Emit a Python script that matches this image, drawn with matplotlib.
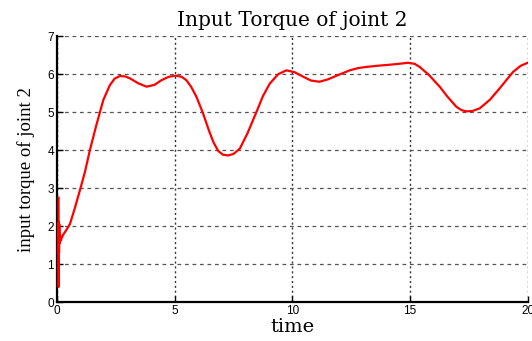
import matplotlib.pyplot as plt

# time and torque values
t = [0.07, 0.075, 0.08, 0.09, 0.1, 0.12, 0.14, 0.17, 0.21, 0.27, 0.35, 0.55, 0.75,
     0.98, 1.2, 1.4, 1.65, 1.97, 2.25, 2.45, 2.67, 2.9, 3.1, 3.45, 3.81, 4.15, 4.44,
     4.75, 5.05, 5.3, 5.5, 5.7, 5.93, 6.2, 6.45, 6.64, 6.85, 7.05, 7.27, 7.5, 7.77,
     8.1, 8.48, 8.75, 9.04, 9.4, 9.75, 10.1, 10.5, 10.8, 11.15, 11.5, 12.0, 12.44,
     12.8, 13.15, 13.6, 14.0, 14.5, 14.92, 15.2, 15.41, 15.8, 16.26, 16.6, 16.97,
     17.2, 17.4, 17.65, 17.96, 18.4, 18.8, 19.1, 19.38, 19.7, 20.0]
torque = [2.75, 0.4, 2.1, 1.3, 2.05, 1.55, 1.75, 1.62, 1.7, 1.78, 1.85, 2.05, 2.45,
          2.95, 3.45, 4.0, 4.6, 5.32, 5.71, 5.88, 5.95, 5.94, 5.89, 5.76, 5.67, 5.72,
          5.84, 5.93, 5.96, 5.93, 5.84, 5.67, 5.40, 4.98, 4.53, 4.22, 3.98, 3.88, 3.86,
          3.9, 4.04, 4.45, 5.01, 5.42, 5.75, 6.0, 6.10, 6.05, 5.92, 5.83, 5.80, 5.86,
          5.99, 6.10, 6.16, 6.19, 6.22, 6.24, 6.27, 6.30, 6.27, 6.19, 5.98, 5.67, 5.40,
          5.14, 5.05, 5.02, 5.03, 5.10, 5.33, 5.62, 5.85, 6.06, 6.22, 6.30]

xticks = [0, 5, 10, 15, 20]
yticks = [0, 1, 2, 3, 4, 5, 6, 7]

fig = plt.figure(figsize=(5.32, 3.41), dpi=100)
ax = fig.add_axes([0.107, 0.114, 0.885, 0.78])

ax.plot(t, torque, color="red", linewidth=1.6, zorder=3)

ax.set_xlim(0, 20)
ax.set_ylim(0, 7)
ax.set_xticks(xticks)
ax.set_yticks(yticks)

# grid: dashed horizontals, dotted verticals
ax.yaxis.grid(True, linestyle=(0, (3, 3)), color="#555555", linewidth=0.9)
ax.xaxis.grid(True, linestyle=(0, (1.5, 2)), color="#333333", linewidth=1.0)

for s in ["top", "right"]:
    ax.spines[s].set_visible(False)
for s in ["left", "bottom"]:
    ax.spines[s].set_linewidth(1.6)

ax.tick_params(direction="in", length=4, width=1, labelsize=8.5, pad=2)
for lbl in ax.get_xticklabels() + ax.get_yticklabels():
    lbl.set_family("Liberation Sans")

ax.set_title("Input Torque of joint 2", family="DejaVu Serif", fontsize=14.5, pad=7)
ax.set_xlabel("time", family="DejaVu Serif", fontsize=14, labelpad=1)
ax.set_ylabel("input torque of joint 2", family="Liberation Serif", fontsize=13.5, labelpad=9)

fig.savefig("out.png", dpi=100)
